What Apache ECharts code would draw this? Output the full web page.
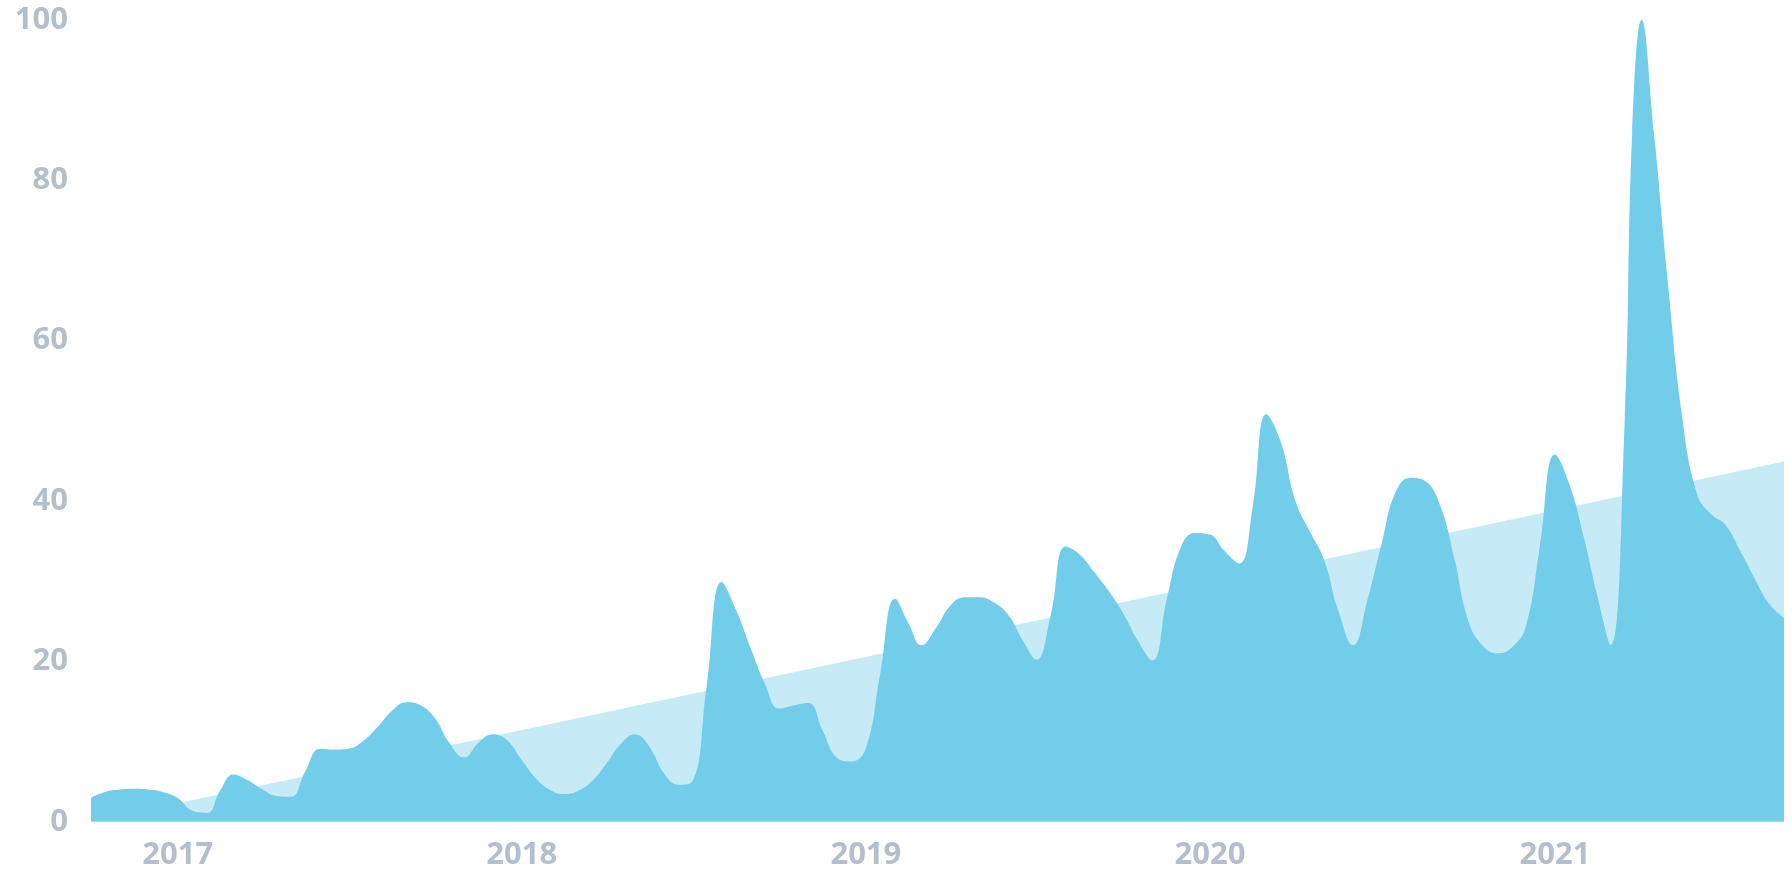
<!DOCTYPE html>
<html>
<head>
<meta charset="utf-8">
<script src="https://cdn.jsdelivr.net/npm/echarts@6/dist/echarts.min.js"></script>
<style>
  html, body { margin: 0; padding: 0; background: #ffffff; }
  #chart { width: 1792px; height: 896px; }
</style>
</head>
<body>
<div id="chart"></div>
<script>
// Sample dates
const dates = [
  '2016-10-01','2016-10-16','2016-11-01','2016-11-16','2016-12-01','2016-12-16',
  '2017-01-01','2017-01-16','2017-02-01','2017-02-15','2017-03-01','2017-03-16',
  '2017-04-01','2017-04-16','2017-05-01','2017-05-16','2017-06-01','2017-06-16',
  '2017-07-01','2017-07-16','2017-08-01','2017-08-16','2017-09-01','2017-09-16',
  '2017-10-01','2017-10-16','2017-11-01','2017-11-16','2017-12-01','2017-12-16',
  '2018-01-01','2018-01-16','2018-02-01','2018-02-15','2018-03-01','2018-03-16',
  '2018-04-01','2018-04-16','2018-05-01','2018-05-16','2018-06-01','2018-06-16',
  '2018-07-01','2018-07-16','2018-08-01','2018-08-16','2018-09-01','2018-09-16',
  '2018-10-01','2018-10-16','2018-11-01','2018-11-16','2018-12-01','2018-12-16',
  '2019-01-01','2019-01-16','2019-02-01','2019-02-15','2019-03-01','2019-03-16',
  '2019-04-01','2019-04-16','2019-05-01','2019-05-16','2019-06-01','2019-06-16',
  '2019-07-01','2019-07-16','2019-08-01','2019-08-16','2019-09-01','2019-09-16',
  '2019-10-01','2019-10-16','2019-11-01','2019-11-16','2019-12-01','2019-12-16',
  '2020-01-01','2020-01-16','2020-02-01','2020-02-15','2020-03-01','2020-03-16',
  '2020-04-01','2020-04-16','2020-05-01','2020-05-16','2020-06-01','2020-06-16',
  '2020-07-01','2020-07-16','2020-08-01','2020-08-16','2020-09-01','2020-09-16',
  '2020-10-01','2020-10-16','2020-11-01','2020-11-16','2020-12-01','2020-12-16',
  '2021-01-01','2021-01-16','2021-02-01','2021-02-15','2021-03-01','2021-03-16',
  '2021-03-24','2021-04-03','2021-04-16','2021-05-01','2021-05-16','2021-06-01',
  '2021-06-16','2021-07-01','2021-07-16','2021-08-01','2021-08-16','2021-09-01'
];
// Interest values (0-100)
const values = [
  3.0, 3.7, 4.0, 4.1, 4.0, 3.7,
  2.95, 1.4, 1.1, 3.9, 5.9, 5.2,
  4.0, 3.2, 3.1, 6.2, 9.1, 9.0,
  9.1, 10.0, 11.8, 13.8, 14.9, 14.5,
  12.9, 9.85, 8.0, 9.85, 10.9, 10.2,
  7.7, 5.4, 3.9, 3.45, 3.8, 5.0,
  7.3, 9.7, 10.9, 9.4, 6.0, 4.6,
  5.0, 16.8, 29.9, 26.5, 21.6, 17.2,
  14.1, 14.5, 14.8, 11.4, 8.0, 7.5,
  9.2, 18.3, 27.8, 24.8, 22.0, 24.1,
  27.0, 28.0, 28.0, 27.4, 25.8, 22.7,
  20.2, 25.7, 34.3, 33.3, 31.0, 28.7,
  26.0, 22.7, 20.1, 27.6, 34.2, 36.0,
  35.8, 33.8, 32.2, 38.9, 50.8, 47.4,
  39.9, 36.2, 32.7, 26.4, 22.0, 27.6,
  34.6, 41.1, 42.9, 42.5, 39.5, 33.0,
  25.1, 22.0, 21.0, 21.7, 24.3, 34.3,
  45.8, 42.2, 35.3, 28.1, 22.0, 50.0,
  86.0, 100, 86.0, 67.0, 50.5, 40.8,
  38.3, 37.0, 33.9, 30.3, 27.2, 25.4
];
// Trend line end points
const trendDates = ['2016-10-01', '2021-09-01'];
const trendValues = [0.0, 44.9];
// Axis labels
const yearTicks = [2017, 2018, 2019, 2020, 2021];
const yTicks = [0, 20, 40, 60, 80, 100];

function ts(s) {
  const p = s.split('-').map(Number);
  return new Date(p[0], p[1] - 1, p[2]).getTime();
}

const labelColor = '#b3bfcc';
const chart = echarts.init(document.getElementById('chart'), null, { renderer: 'canvas' });
chart.setOption({
  animation: false,
  backgroundColor: '#ffffff',
  grid: { left: 91, right: 8, top: 19.7, bottom: 74.3, containLabel: false },
  xAxis: {
    type: 'value',
    min: ts(trendDates[0]),
    max: ts(trendDates[1]),
    axisLine: { show: false },
    axisTick: { show: false },
    splitLine: { show: false },
    axisLabel: {
      customValues: yearTicks.map(y => new Date(y, 0, 1).getTime()),
      formatter: function (v) {
        return String(new Date(v).getFullYear());
      },
      hideOverlap: false,
      color: labelColor,
      fontFamily: 'Open Sans',
      fontWeight: 700,
      fontSize: 31,
      lineHeight: 31,
      margin: 18
    }
  },
  yAxis: {
    type: 'value',
    min: yTicks[0],
    max: yTicks[yTicks.length - 1],
    interval: 20,
    axisLine: { show: false },
    axisTick: { show: false },
    splitLine: { show: false },
    axisLabel: {
      color: labelColor,
      fontFamily: 'Open Sans',
      fontWeight: 700,
      fontSize: 31,
      lineHeight: 31,
      margin: 23,
      padding: [0, 0, 6, 0]
    }
  },
  series: [
    {
      name: 'trend',
      type: 'line',
      silent: true,
      symbol: 'none',
      data: trendDates.map((d, i) => [ts(d), trendValues[i]]),
      lineStyle: { width: 0 },
      areaStyle: { color: '#c6ebf6', opacity: 1 }
    },
    {
      name: 'interest',
      type: 'line',
      silent: true,
      smooth: 0.45,
      symbol: 'none',
      data: dates.map((d, i) => [ts(d), values[i]]),
      lineStyle: { width: 0 },
      areaStyle: { color: '#72cdea', opacity: 1 }
    }
  ]
});
</script>
</body>
</html>
